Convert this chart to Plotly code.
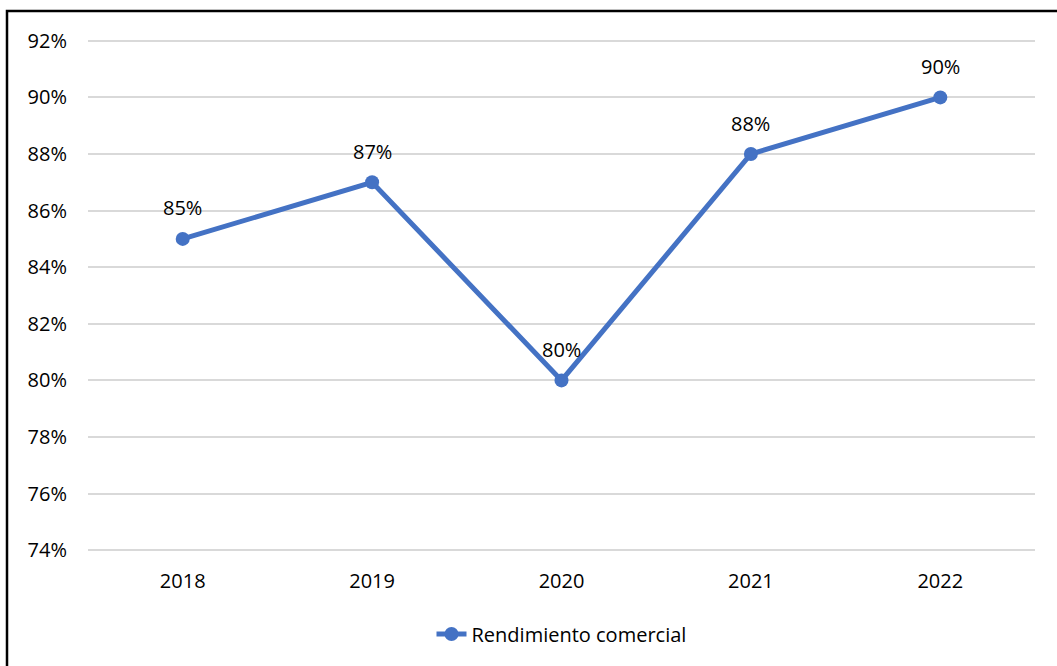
import plotly.graph_objects as go

years = ["2018", "2019", "2020", "2021", "2022"]
values = [85, 87, 80, 88, 90]
labels = ["85%", "87%", "80%", "88%", "90%"]
series_name = "Rendimiento comercial"
ytick_vals = [74, 76, 78, 80, 82, 84, 86, 88, 90, 92]
ytick_text = [f"{v}%" for v in ytick_vals]

W, H = 1057, 666
L, R, T, B = 88, 22, 38, 113
pw, ph = W - L - R, H - T - B

color = "#4472C4"
font = dict(family="Open Sans, Calibri, sans-serif", size=20, color="#000000")

xpos = list(range(len(years)))

fig = go.Figure()
fig.add_trace(go.Scatter(
    x=xpos, y=values, mode="lines+markers", name=series_name,
    line=dict(color=color, width=5),
    marker=dict(color=color, size=14),
    hoverinfo="skip",
))

for x, y, t in zip(xpos, values, labels):
    fig.add_annotation(x=x, y=y, text=t, showarrow=False, yshift=31,
                       font=font, xref="x", yref="y")

# outer border (cut off at right and bottom)
fig.add_shape(type="rect", xref="paper", yref="paper",
              x0=(7 - L) / pw, x1=(W + 10 - L) / pw,
              y0=(T + ph - (H + 10)) / ph, y1=(T + ph - 11) / ph,
              line=dict(color="black", width=2.5), fillcolor="rgba(0,0,0,0)",
              layer="above")

fig.update_layout(
    width=W, height=H,
    margin=dict(l=L, r=R, t=T, b=B, pad=0),
    paper_bgcolor="white", plot_bgcolor="white",
    font=font,
    showlegend=True,
    legend=dict(orientation="h", x=0.5, xanchor="center", y=(T + ph - 634) / ph,
                yanchor="middle", font=font),
    xaxis=dict(range=[-0.5, len(years) - 0.5], tickvals=xpos, ticktext=years,
               showgrid=False, showline=False, zeroline=False,
               ticks="", ticklabelstandoff=14, tickfont=font),
    yaxis=dict(range=[73.9, 92.1], tickvals=ytick_vals, ticktext=ytick_text,
               showgrid=True, gridcolor="#d9d9d9", gridwidth=1.5,
               showline=False, zeroline=False, ticks="",
               ticklabelstandoff=20, tickfont=font),
)

fig.write_html("out.html")
